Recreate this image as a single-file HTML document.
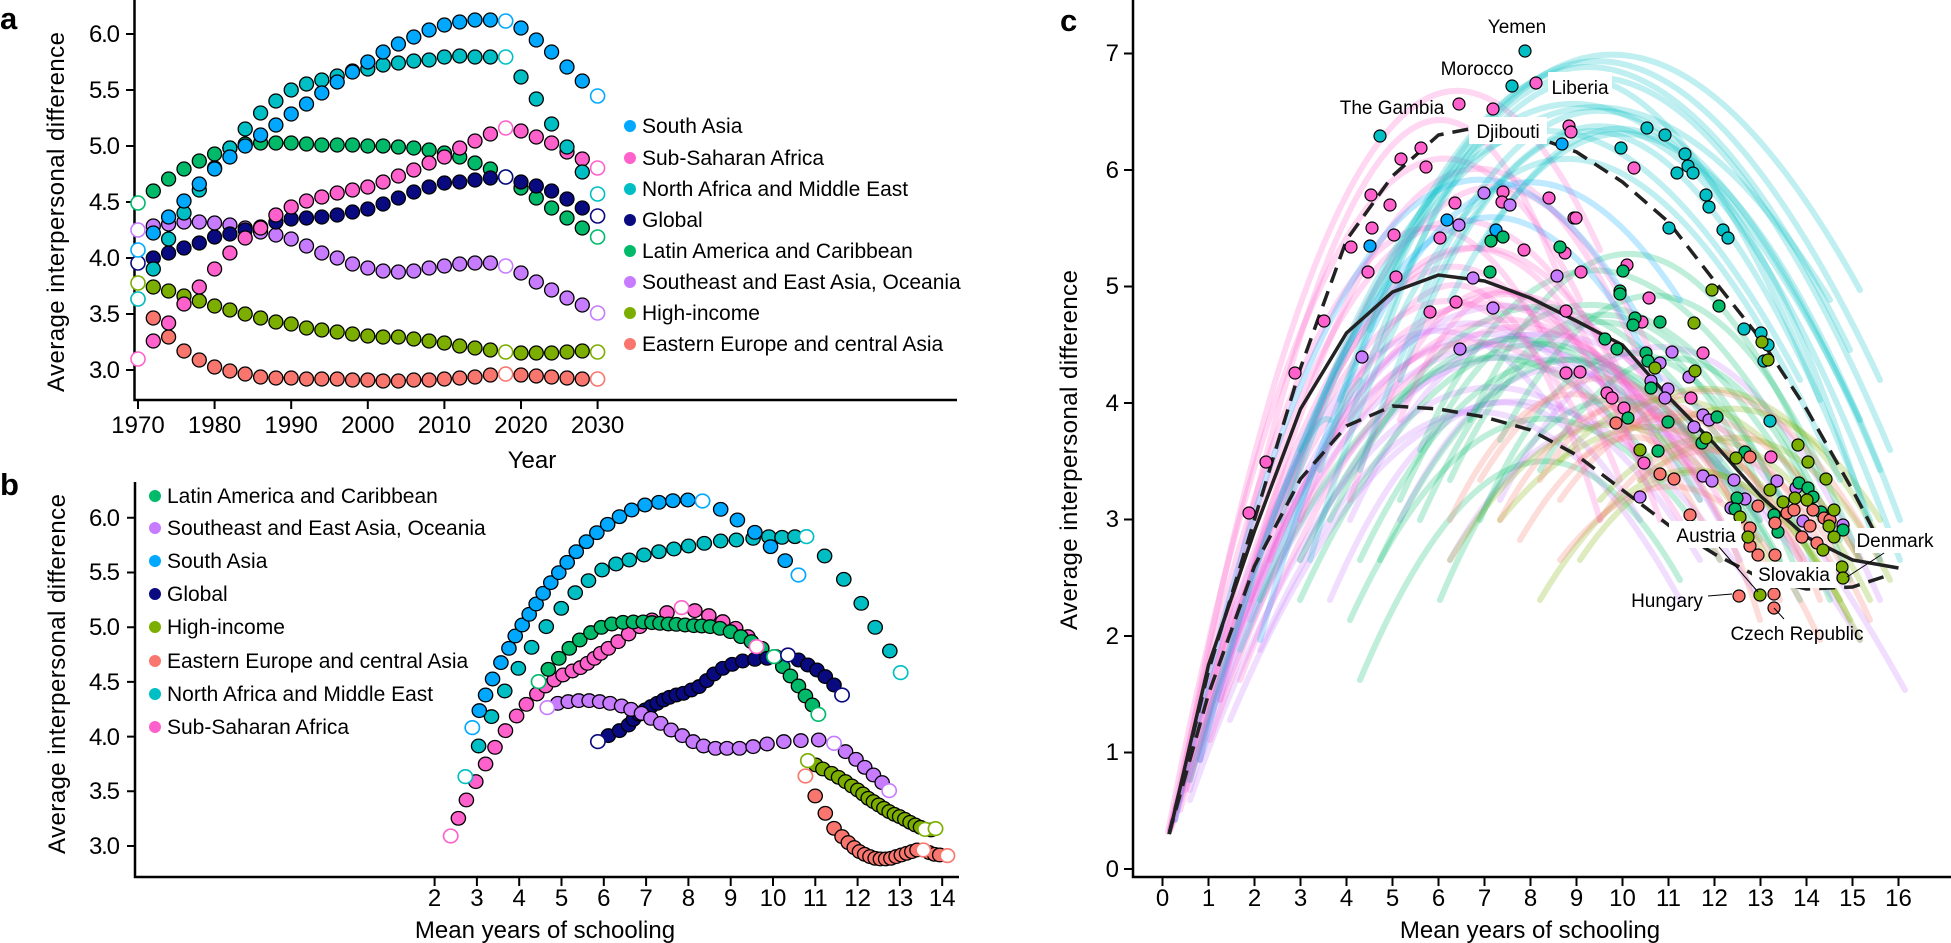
<!DOCTYPE html>
<html><head><meta charset="utf-8"><style>
html,body{margin:0;padding:0;background:#fff}
svg{display:block;font-family:"Liberation Sans",Arial,sans-serif}
</style></head><body>
<svg width="1951" height="943" viewBox="0 0 1951 943" xmlns="http://www.w3.org/2000/svg">
<defs>
<marker id="aSA" markerUnits="userSpaceOnUse" viewBox="0 0 20 20" refX="10" refY="10" markerWidth="20" markerHeight="20"><circle cx="10" cy="10" r="7" fill="#00A9FF" stroke="#000" stroke-width="1.3"/></marker>
<marker id="aSS" markerUnits="userSpaceOnUse" viewBox="0 0 20 20" refX="10" refY="10" markerWidth="20" markerHeight="20"><circle cx="10" cy="10" r="7" fill="#FF61CC" stroke="#000" stroke-width="1.3"/></marker>
<marker id="aNM" markerUnits="userSpaceOnUse" viewBox="0 0 20 20" refX="10" refY="10" markerWidth="20" markerHeight="20"><circle cx="10" cy="10" r="7" fill="#00BFC4" stroke="#000" stroke-width="1.3"/></marker>
<marker id="aGL" markerUnits="userSpaceOnUse" viewBox="0 0 20 20" refX="10" refY="10" markerWidth="20" markerHeight="20"><circle cx="10" cy="10" r="7" fill="#0A0A80" stroke="#000" stroke-width="1.3"/></marker>
<marker id="aLA" markerUnits="userSpaceOnUse" viewBox="0 0 20 20" refX="10" refY="10" markerWidth="20" markerHeight="20"><circle cx="10" cy="10" r="7" fill="#00BA6A" stroke="#000" stroke-width="1.3"/></marker>
<marker id="aPU" markerUnits="userSpaceOnUse" viewBox="0 0 20 20" refX="10" refY="10" markerWidth="20" markerHeight="20"><circle cx="10" cy="10" r="7" fill="#C77CFF" stroke="#000" stroke-width="1.3"/></marker>
<marker id="aHI" markerUnits="userSpaceOnUse" viewBox="0 0 20 20" refX="10" refY="10" markerWidth="20" markerHeight="20"><circle cx="10" cy="10" r="7" fill="#7CAE00" stroke="#000" stroke-width="1.3"/></marker>
<marker id="aEE" markerUnits="userSpaceOnUse" viewBox="0 0 20 20" refX="10" refY="10" markerWidth="20" markerHeight="20"><circle cx="10" cy="10" r="7" fill="#F8766D" stroke="#000" stroke-width="1.3"/></marker>

<marker id="bSA" markerUnits="userSpaceOnUse" viewBox="0 0 60 60" refX="30" refY="30" markerWidth="60" markerHeight="60"><circle cx="30" cy="30" r="20.5" fill="#00A9FF" stroke="#000" stroke-width="3.8"/></marker>
<marker id="bSS" markerUnits="userSpaceOnUse" viewBox="0 0 60 60" refX="30" refY="30" markerWidth="60" markerHeight="60"><circle cx="30" cy="30" r="20.5" fill="#FF61CC" stroke="#000" stroke-width="3.8"/></marker>
<marker id="bNM" markerUnits="userSpaceOnUse" viewBox="0 0 60 60" refX="30" refY="30" markerWidth="60" markerHeight="60"><circle cx="30" cy="30" r="20.5" fill="#00BFC4" stroke="#000" stroke-width="3.8"/></marker>
<marker id="bGL" markerUnits="userSpaceOnUse" viewBox="0 0 60 60" refX="30" refY="30" markerWidth="60" markerHeight="60"><circle cx="30" cy="30" r="20.5" fill="#0A0A80" stroke="#000" stroke-width="3.8"/></marker>
<marker id="bLA" markerUnits="userSpaceOnUse" viewBox="0 0 60 60" refX="30" refY="30" markerWidth="60" markerHeight="60"><circle cx="30" cy="30" r="20.5" fill="#00BA6A" stroke="#000" stroke-width="3.8"/></marker>
<marker id="bPU" markerUnits="userSpaceOnUse" viewBox="0 0 60 60" refX="30" refY="30" markerWidth="60" markerHeight="60"><circle cx="30" cy="30" r="20.5" fill="#C77CFF" stroke="#000" stroke-width="3.8"/></marker>
<marker id="bHI" markerUnits="userSpaceOnUse" viewBox="0 0 60 60" refX="30" refY="30" markerWidth="60" markerHeight="60"><circle cx="30" cy="30" r="20.5" fill="#7CAE00" stroke="#000" stroke-width="3.8"/></marker>
<marker id="bEE" markerUnits="userSpaceOnUse" viewBox="0 0 60 60" refX="30" refY="30" markerWidth="60" markerHeight="60"><circle cx="30" cy="30" r="20.5" fill="#F8766D" stroke="#000" stroke-width="3.8"/></marker>

<marker id="cSA" markerUnits="userSpaceOnUse" viewBox="0 0 20 20" refX="10" refY="10" markerWidth="20" markerHeight="20"><circle cx="10" cy="10" r="6" fill="#00A9FF" stroke="#000" stroke-width="1.2"/></marker>
<marker id="cSS" markerUnits="userSpaceOnUse" viewBox="0 0 20 20" refX="10" refY="10" markerWidth="20" markerHeight="20"><circle cx="10" cy="10" r="6" fill="#FF61CC" stroke="#000" stroke-width="1.2"/></marker>
<marker id="cNM" markerUnits="userSpaceOnUse" viewBox="0 0 20 20" refX="10" refY="10" markerWidth="20" markerHeight="20"><circle cx="10" cy="10" r="6" fill="#00BFC4" stroke="#000" stroke-width="1.2"/></marker>
<marker id="cLA" markerUnits="userSpaceOnUse" viewBox="0 0 20 20" refX="10" refY="10" markerWidth="20" markerHeight="20"><circle cx="10" cy="10" r="6" fill="#00BA6A" stroke="#000" stroke-width="1.2"/></marker>
<marker id="cPU" markerUnits="userSpaceOnUse" viewBox="0 0 20 20" refX="10" refY="10" markerWidth="20" markerHeight="20"><circle cx="10" cy="10" r="6" fill="#C77CFF" stroke="#000" stroke-width="1.2"/></marker>
<marker id="cHI" markerUnits="userSpaceOnUse" viewBox="0 0 20 20" refX="10" refY="10" markerWidth="20" markerHeight="20"><circle cx="10" cy="10" r="6" fill="#7CAE00" stroke="#000" stroke-width="1.2"/></marker>
<marker id="cEE" markerUnits="userSpaceOnUse" viewBox="0 0 20 20" refX="10" refY="10" markerWidth="20" markerHeight="20"><circle cx="10" cy="10" r="6" fill="#F8766D" stroke="#000" stroke-width="1.2"/></marker>
</defs>
<rect width="1951" height="943" fill="#fff"/>

<!-- panel c background curves -->
<g fill="none" stroke-width="6" stroke-linecap="round" stroke-opacity="0.25">
<g stroke="#C77CFF">
<path d="M1175 820 Q1400 50 1700 500"/><path d="M1200 760 Q1420 100 1760 520"/><path d="M1250 620 Q1450 100 1800 560"/>
<path d="M1300 560 Q1550 50 1905 690"/><path d="M1330 600 Q1480 250 1640 520"/><path d="M1220 700 Q1420 60 1720 460"/>
<path d="M1400 520 Q1560 200 1740 560"/><path d="M1260 650 Q1460 200 1680 600"/><path d="M1190 790 Q1380 100 1620 430"/>
<path d="M1500 500 Q1680 150 1880 600"/><path d="M1170 830 Q1350 120 1560 420"/><path d="M1450 560 Q1620 250 1860 640"/>
<path d="M1190 800 Q1430 120 1700 560"/><path d="M1230 720 Q1470 150 1760 600"/><path d="M1350 520 Q1520 150 1720 520"/>
</g>
<g stroke="#00BA6A">
<path d="M1400 500 Q1580 100 1820 520"/><path d="M1450 480 Q1620 120 1800 580"/><path d="M1380 560 Q1560 180 1760 520"/>
<path d="M1420 450 Q1600 50 1840 540"/><path d="M1350 620 Q1520 250 1720 560"/><path d="M1480 520 Q1640 150 1830 600"/>
<path d="M1300 560 Q1500 150 1700 500"/><path d="M1500 440 Q1680 100 1860 560"/><path d="M1360 680 Q1520 300 1680 580"/>
<path d="M1440 600 Q1600 220 1780 560"/><path d="M1540 470 Q1700 200 1850 580"/><path d="M1260 600 Q1450 200 1650 460"/>
<path d="M1470 420 Q1640 60 1820 480"/><path d="M1330 520 Q1520 120 1740 470"/>
<path d="M1300 600 Q1520 120 1760 540"/><path d="M1360 560 Q1560 140 1800 600"/><path d="M1420 520 Q1600 120 1780 500"/>
</g>
<g stroke="#7CAE00">
<path d="M1560 460 Q1700 300 1860 560"/><path d="M1600 500 Q1740 340 1870 600"/><path d="M1620 420 Q1760 320 1880 540"/>
<path d="M1580 560 Q1720 350 1860 640"/><path d="M1640 480 Q1780 360 1890 580"/><path d="M1500 520 Q1680 300 1840 600"/>
<path d="M1660 430 Q1780 360 1880 520"/><path d="M1540 600 Q1700 330 1850 620"/><path d="M1450 560 Q1620 280 1780 580"/>
</g>
<g stroke="#F8766D">
<path d="M1540 480 Q1660 280 1800 560"/><path d="M1560 500 Q1700 300 1840 580"/><path d="M1500 520 Q1640 260 1780 600"/>
<path d="M1580 460 Q1720 330 1860 560"/><path d="M1600 520 Q1720 340 1820 600"/><path d="M1520 540 Q1660 300 1760 620"/>
<path d="M1620 440 Q1740 300 1880 560"/><path d="M1560 560 Q1700 380 1820 640"/><path d="M1480 480 Q1620 250 1750 540"/>
<path d="M1640 480 Q1760 380 1870 620"/><path d="M1450 520 Q1580 250 1720 560"/>
</g>
<g stroke="#FF61CC">
<path d="M1168 832 Q1360 -150 1580 300"/><path d="M1170 830 Q1400 -50 1620 400"/><path d="M1180 800 Q1390 -120 1640 420"/>
<path d="M1200 760 Q1380 -200 1560 280"/><path d="M1190 780 Q1420 -80 1660 450"/><path d="M1220 700 Q1420 -150 1640 360"/>
<path d="M1250 600 Q1430 0 1620 480"/><path d="M1300 520 Q1460 50 1600 520"/><path d="M1170 830 Q1350 -20 1540 330"/>
<path d="M1270 560 Q1450 -60 1650 350"/><path d="M1230 640 Q1400 100 1580 420"/><path d="M1350 500 Q1480 100 1640 460"/>
<path d="M1175 820 Q1370 -250 1600 250"/><path d="M1400 420 Q1520 120 1660 520"/><path d="M1172 826 Q1390 0 1700 480"/>
<path d="M1185 790 Q1400 60 1680 520"/>
<path d="M1180 810 Q1420 20 1690 440"/><path d="M1210 740 Q1440 60 1700 480"/><path d="M1240 680 Q1470 80 1720 500"/>
</g>
<g stroke="#00A9FF">
<path d="M1175 820 Q1380 -120 1640 320"/><path d="M1200 760 Q1420 -80 1660 380"/><path d="M1260 640 Q1450 -50 1680 300"/>
</g>
<g stroke="#00BFC4">
<path d="M1290 500 Q1540 -250 1860 420"/><path d="M1320 470 Q1560 -300 1880 380"/><path d="M1350 420 Q1580 -280 1890 450"/>
<path d="M1310 560 Q1530 -200 1840 480"/><path d="M1380 350 Q1570 -220 1820 400"/><path d="M1400 380 Q1600 -180 1870 520"/>
<path d="M1280 520 Q1500 -180 1800 380"/><path d="M1360 470 Q1600 -260 1900 560"/><path d="M1340 400 Q1560 -240 1850 350"/>
<path d="M1420 300 Q1620 -150 1880 470"/><path d="M1300 450 Q1550 -150 1830 300"/><path d="M1370 330 Q1590 -200 1860 290"/>
<path d="M1190 780 Q1300 400 1330 420"/><path d="M1240 650 Q1330 420 1360 380"/>
<path d="M1450 300 Q1660 -120 1900 520"/><path d="M1480 250 Q1680 -100 1880 560"/>
</g>
</g>
<!-- panel c main curves -->
<g fill="none" stroke="#222" stroke-width="3.5">
<path d="M1169.4 834 L1208.5 665 1254.5 531 1300.5 409 1346.5 333 1392.5 292 1438.5 275 1484.5 281 1530.5 298 1576.5 321 1622.5 345 1668.5 397 1714.5 444 1760.5 496 1806.5 537 1852.5 560 1898.5 568"/>
<path stroke-dasharray="16 9" d="M1169 834 L1208.5 671 1254.5 519.5 1300.5 368 1346.5 240 1392.5 176 1438.5 135 1484.5 126 1530.5 135 1576.5 152 1622.5 182 1668.5 222 1714.5 281 1760.5 339 1806.5 409 1852.5 490 1889.3 560"/>
<path stroke-dasharray="16 9" d="M1169 834 L1208.5 694 1254.5 566 1300.5 479 1346.5 426 1392.5 406 1438.5 409 1484.5 417 1530.5 430 1576.5 455 1622.5 490 1668.5 525 1714.5 554 1760.5 578 1806.5 589 1852.5 587 1889.3 575"/>
</g>

<!-- panel labels -->
<text x="0" y="29" font-size="31" font-weight="bold">a</text>
<text x="0" y="495" font-size="31" font-weight="bold">b</text>
<text x="1060" y="31" font-size="31" font-weight="bold">c</text>
<!-- axes -->
<g stroke="#000" stroke-width="2.5" fill="none">
<path d="M134.5 0 V400 H957"/>
<path d="M135 482 V877 H959"/>
<path d="M1133 0 V877 H1951"/>
</g>
<g font-size="24" text-anchor="end">
<text x="120" y="378" textLength="31">3.0</text><text x="120" y="322" textLength="31">3.5</text>
<text x="120" y="266" textLength="31">4.0</text><text x="120" y="210" textLength="31">4.5</text>
<text x="120" y="154" textLength="31">5.0</text><text x="120" y="98" textLength="31">5.5</text>
<text x="120" y="42" textLength="31">6.0</text>
<text x="120" y="854" textLength="31">3.0</text><text x="120" y="799" textLength="31">3.5</text>
<text x="120" y="745" textLength="31">4.0</text><text x="120" y="690" textLength="31">4.5</text>
<text x="120" y="635" textLength="31">5.0</text><text x="120" y="580" textLength="31">5.5</text>
<text x="120" y="526" textLength="31">6.0</text>
<text x="1119" y="877">0</text><text x="1119" y="760">1</text><text x="1119" y="644">2</text><text x="1119" y="527">3</text>
<text x="1119" y="411">4</text><text x="1119" y="294">5</text><text x="1119" y="178">6</text><text x="1119" y="61">7</text>
</g>
<g stroke="#000" stroke-width="2">
<path d="M126 370H134M126 314H134M126 258H134M126 202H134M126 146H134M126 90H134M126 34H134"/>
<path d="M127 846H135M127 791.3H135M127 736.6H135M127 681.9H135M127 627.2H135M127 572.5H135M127 517.8H135"/>
<path d="M138 400V409M214.6 400V409M291.2 400V409M367.8 400V409M444.4 400V409M521 400V409M597.6 400V409"/>
<path d="M434.6 877V886M476.9 877V886M519.2 877V886M561.5 877V886M603.8 877V886M646.1 877V886M688.4 877V886M730.7 877V886M773 877V886M815.3 877V886M857.6 877V886M899.9 877V886M942.2 877V886"/>
<path d="M1124 869H1133M1124 752.5H1133M1124 636H1133M1124 519.5H1133M1124 403H1133M1124 286.5H1133M1124 170H1133M1124 53.5H1133"/>
<path d="M1162.5 877V886M1208.5 877V886M1254.5 877V886M1300.5 877V886M1346.5 877V886M1392.5 877V886M1438.5 877V886M1484.5 877V886M1530.5 877V886M1576.5 877V886M1622.5 877V886M1668.5 877V886M1714.5 877V886M1760.5 877V886M1806.5 877V886M1852.5 877V886M1898.5 877V886"/>
</g>
<g font-size="24" text-anchor="middle">
<text x="138" y="433">1970</text><text x="214.6" y="433">1980</text><text x="291.2" y="433">1990</text>
<text x="367.8" y="433">2000</text><text x="444.4" y="433">2010</text><text x="521" y="433">2020</text><text x="597.6" y="433">2030</text>
<text x="532" y="468">Year</text>
<text x="434.6" y="906">2</text><text x="476.9" y="906">3</text><text x="519.2" y="906">4</text><text x="561.5" y="906">5</text>
<text x="603.8" y="906">6</text><text x="646.1" y="906">7</text><text x="688.4" y="906">8</text><text x="730.7" y="906">9</text>
<text x="773" y="906">10</text><text x="815.3" y="906">11</text><text x="857.6" y="906">12</text><text x="899.9" y="906">13</text><text x="942.2" y="906">14</text>
<text x="1162.5" y="906">0</text><text x="1208.5" y="906">1</text><text x="1254.5" y="906">2</text><text x="1300.5" y="906">3</text>
<text x="1346.5" y="906">4</text><text x="1392.5" y="906">5</text><text x="1438.5" y="906">6</text><text x="1484.5" y="906">7</text>
<text x="1530.5" y="906">8</text><text x="1576.5" y="906">9</text><text x="1622.5" y="906">10</text><text x="1668.5" y="906">11</text>
<text x="1714.5" y="906">12</text><text x="1760.5" y="906">13</text><text x="1806.5" y="906">14</text><text x="1852.5" y="906">15</text><text x="1898.5" y="906">16</text>
<text x="545" y="938">Mean years of schooling</text>
<text x="1530" y="938">Mean years of schooling</text>
</g>
<text transform="translate(64,212) rotate(-90)" font-size="24" text-anchor="middle" textLength="360">Average interpersonal difference</text>
<text transform="translate(65,674) rotate(-90)" font-size="24" text-anchor="middle" textLength="360">Average interpersonal difference</text>
<text transform="translate(1077,450) rotate(-90)" font-size="24" text-anchor="middle" textLength="360">Average interpersonal difference</text>

<!-- panel a data -->
<g fill="none" stroke="none">
<path marker-start="url(#aEE)" marker-mid="url(#aEE)" marker-end="url(#aEE)" d="M153.3 318 168.6 337 184 351 199.3 360 214.6 367 229.9 371 245.2 374 260.6 377 275.9 378 291.2 378 306.5 379 321.8 379 337.2 379 352.5 380 367.8 380 383.1 381 398.4 381 413.8 380 429.1 380 444.4 379 459.7 378 475 377 490.4 375 M521 375 536.3 376 551.6 377 567 378 582.3 379"/>
<path marker-start="url(#aHI)" marker-mid="url(#aHI)" marker-end="url(#aHI)" d="M153.3 287 168.6 291 184 296 199.3 301 214.6 306 229.9 310 245.2 314 260.6 318 275.9 322 291.2 324 306.5 328 321.8 330 337.2 332 352.5 334 367.8 336 383.1 337 398.4 337 413.8 339 429.1 341 444.4 343 459.7 346 475 348 490.4 350 M521 353 536.3 353 551.6 353 567 352 582.3 351"/>
<path marker-start="url(#aPU)" marker-mid="url(#aPU)" marker-end="url(#aPU)" d="M153.3 226 168.6 224 184 222 199.3 222 214.6 223 229.9 225 245.2 228 260.6 232 275.9 235 291.2 239 306.5 246 321.8 253 337.2 258 352.5 264 367.8 268 383.1 271 398.4 272 413.8 271 429.1 268 444.4 266 459.7 264 475 263 490.4 263 M521 273 536.3 282 551.6 290 567 298 582.3 305"/>
<path marker-start="url(#aLA)" marker-mid="url(#aLA)" marker-end="url(#aLA)" d="M153.3 191 168.6 179 184 169 199.3 161 214.6 154 229.9 148 245.2 144 260.6 143 275.9 143 291.2 143 306.5 144 321.8 145 337.2 145 352.5 145 367.8 146 383.1 146 398.4 147 413.8 148 429.1 150 444.4 153 459.7 157 475 163 490.4 169 M521 188 536.3 198 551.6 208 567 218 582.3 228"/>
<path marker-start="url(#aGL)" marker-mid="url(#aGL)" marker-end="url(#aGL)" d="M153.3 258 168.6 253 184 248 199.3 243 214.6 237 229.9 234 245.2 230 260.6 227 275.9 222 291.2 219 306.5 218 321.8 217 337.2 215 352.5 212 367.8 209 383.1 204 398.4 198 413.8 192 429.1 187 444.4 183 459.7 182 475 180 490.4 178 M521 182 536.3 186 551.6 191 567 199 582.3 208"/>
<path marker-start="url(#aSS)" marker-mid="url(#aSS)" marker-end="url(#aSS)" d="M153.3 341 168.6 323 184 304 199.3 287 214.6 269 229.9 253 245.2 238 260.6 228 275.9 215 291.2 207 306.5 201 321.8 197 337.2 193 352.5 190 367.8 187 383.1 182 398.4 176 413.8 170 429.1 163 444.4 157 459.7 148 475 141 490.4 134 M521 131 536.3 137 551.6 143 567 152 582.3 159"/>
<path marker-start="url(#aNM)" marker-mid="url(#aNM)" marker-end="url(#aNM)" d="M153.3 269 168.6 239 184 213 199.3 190 214.6 168 229.9 148 245.2 129 260.6 113 275.9 101 291.2 90 306.5 84 321.8 80 337.2 76 352.5 71 367.8 69 383.1 65 398.4 63 413.8 61 429.1 60 444.4 57 459.7 56 475 57 490.4 57 M521 77 536.3 99 551.6 124 567 147 582.3 172"/>
<path marker-start="url(#aSA)" marker-mid="url(#aSA)" marker-end="url(#aSA)" d="M153.3 233 168.6 217 184 201 199.3 184 214.6 169 229.9 157 245.2 146 260.6 135 275.9 125 291.2 114 306.5 104 321.8 93 337.2 82 352.5 72 367.8 62 383.1 52 398.4 44 413.8 37 429.1 30 444.4 25 459.7 22 475 20 490.4 20 M521 28 536.3 40 551.6 52 567 67 582.3 81"/>
</g>
<g fill="#fff" stroke-width="1.6">
<circle cx="138" cy="299" r="7" stroke="#F8766D"/><circle cx="505.7" cy="374" r="7" stroke="#F8766D"/><circle cx="597.6" cy="379" r="7" stroke="#F8766D"/>
<circle cx="138" cy="283" r="7" stroke="#7CAE00"/><circle cx="505.7" cy="352" r="7" stroke="#7CAE00"/><circle cx="597.6" cy="352" r="7" stroke="#7CAE00"/>
<circle cx="138" cy="230" r="7" stroke="#C77CFF"/><circle cx="505.7" cy="266" r="7" stroke="#C77CFF"/><circle cx="597.6" cy="313" r="7" stroke="#C77CFF"/>
<circle cx="138" cy="203" r="7" stroke="#00BA6A"/><circle cx="505.7" cy="177" r="7" stroke="#00BA6A"/><circle cx="597.6" cy="237" r="7" stroke="#00BA6A"/>
<circle cx="138" cy="263" r="7" stroke="#0A0A80"/><circle cx="505.7" cy="177" r="7" stroke="#0A0A80"/><circle cx="597.6" cy="216" r="7" stroke="#0A0A80"/>
<circle cx="138" cy="359" r="7" stroke="#FF61CC"/><circle cx="505.7" cy="128" r="7" stroke="#FF61CC"/><circle cx="597.6" cy="168" r="7" stroke="#FF61CC"/>
<circle cx="138" cy="299" r="7" stroke="#00BFC4"/><circle cx="505.7" cy="57" r="7" stroke="#00BFC4"/><circle cx="597.6" cy="194" r="7" stroke="#00BFC4"/>
<circle cx="138" cy="250" r="7" stroke="#00A9FF"/><circle cx="505.7" cy="21" r="7" stroke="#00A9FF"/><circle cx="597.6" cy="96" r="7" stroke="#00A9FF"/>
</g>

<!-- panel b data (zoom coords) -->
<g transform="translate(420,470) scale(0.3488,0.3333)">
<g fill="none" stroke="none">
<path marker-start="url(#bSS)" marker-mid="url(#bSS)" marker-end="url(#bSS)" d="M110 1045 133 990 160 935 188 882 215 832 245 782 277 738 305 703 335 672 360 648 385 630 410 615 437 603 460 593 480 580 500 565 518 550 540 535 568 515 598 492 630 470 665 450 708 428 M788 422 828 437 868 455 905 475 940 500"/>
<path marker-start="url(#bNM)" marker-mid="url(#bNM)" marker-end="url(#bNM)" d="M168 828 205 740 243 663 282 595 320 532 362 470 405 415 445 368 483 332 522 300 562 282 600 270 642 255 685 245 728 237 770 228 815 220 862 213 907 210 955 205 1000 200 1038 202 1075 200 M1160 258 1215 328 1265 400 1305 472 1347 543"/>
<path marker-start="url(#bSA)" marker-mid="url(#bSA)" marker-end="url(#bSA)" d="M170 722 188 675 208 627 232 578 255 535 273 498 293 465 313 433 333 402 353 370 375 338 398 308 422 277 448 245 477 215 507 188 538 163 572 140 607 120 645 105 685 97 725 92 768 90 M862 118 910 150 960 187 1005 230 1047 272"/>
<path marker-start="url(#bLA)" marker-mid="url(#bLA)" marker-end="url(#bLA)" d="M368 598 398 565 428 535 458 510 490 488 520 472 550 462 582 457 612 456 640 456 665 458 688 460 712 462 735 463 760 465 785 467 808 468 832 470 860 475 890 485 920 500 950 515 980 535 M1040 590 1062 618 1085 648 1105 678 1125 705"/>
<path marker-start="url(#bGL)" marker-mid="url(#bGL)" marker-end="url(#bGL)" d="M540 797 572 782 598 765 612 748 628 733 645 720 662 710 680 700 698 690 715 682 735 675 755 670 778 660 800 650 822 632 843 612 868 595 895 583 925 573 960 568 995 565 1020 560 M1085 570 1112 585 1138 600 1162 620 1187 645"/>
<path marker-start="url(#bPU)" marker-mid="url(#bPU)" marker-end="url(#bPU)" d="M395 700 425 695 455 692 485 692 515 695 545 700 578 708 605 718 635 730 662 745 690 760 720 780 752 797 783 815 813 828 847 835 880 835 916 835 955 830 995 822 1043 815 1092 812 1143 810 M1220 845 1250 868 1275 892 1300 915 1325 938"/>
<path marker-start="url(#bHI)" marker-mid="url(#bHI)" marker-end="url(#bHI)" d="M1135 885 1155 897 1180 910 1200 922 1220 935 1238 948 1255 960 1270 972 1285 985 1300 995 1315 1005 1330 1015 1345 1025 1360 1033 1375 1040 1390 1048 1405 1057 1420 1065 1435 1072 1465 1080"/>
<path marker-start="url(#bEE)" marker-mid="url(#bEE)" marker-end="url(#bEE)" d="M1133 978 1162 1030 1187 1075 1210 1100 1228 1118 1245 1133 1260 1145 1275 1153 1290 1160 1305 1165 1320 1167 1335 1167 1350 1165 1365 1160 1380 1155 1395 1150 1410 1145 1425 1140 1460 1148 1475 1153 1490 1155"/>
</g>
<g fill="#fff" stroke-width="4.8">
<circle cx="88" cy="1098" r="20.5" stroke="#FF61CC"/><circle cx="750" cy="413" r="20.5" stroke="#FF61CC"/><circle cx="965" cy="530" r="20.5" stroke="#FF61CC"/>
<circle cx="130" cy="920" r="20.5" stroke="#00BFC4"/><circle cx="1108" cy="200" r="20.5" stroke="#00BFC4"/><circle cx="1378" cy="608" r="20.5" stroke="#00BFC4"/>
<circle cx="150" cy="773" r="20.5" stroke="#00A9FF"/><circle cx="810" cy="93" r="20.5" stroke="#00A9FF"/><circle cx="1085" cy="315" r="20.5" stroke="#00A9FF"/>
<circle cx="340" cy="635" r="20.5" stroke="#00BA6A"/><circle cx="1015" cy="560" r="20.5" stroke="#00BA6A"/><circle cx="1142" cy="733" r="20.5" stroke="#00BA6A"/>
<circle cx="510" cy="815" r="20.5" stroke="#0A0A80"/><circle cx="1055" cy="555" r="20.5" stroke="#0A0A80"/><circle cx="1210" cy="675" r="20.5" stroke="#0A0A80"/>
<circle cx="365" cy="713" r="20.5" stroke="#C77CFF"/><circle cx="1187" cy="820" r="20.5" stroke="#C77CFF"/><circle cx="1345" cy="962" r="20.5" stroke="#C77CFF"/>
<circle cx="1112" cy="872" r="20.5" stroke="#7CAE00"/><circle cx="1448" cy="1078" r="20.5" stroke="#7CAE00"/><circle cx="1478" cy="1076" r="20.5" stroke="#7CAE00"/>
<circle cx="1105" cy="918" r="20.5" stroke="#F8766D"/><circle cx="1443" cy="1140" r="20.5" stroke="#F8766D"/><circle cx="1512" cy="1157" r="20.5" stroke="#F8766D"/>
</g>
</g>

<!-- legends -->
<g font-size="21">
<circle cx="630" cy="126" r="6" fill="#00A9FF"/><text x="642" y="133">South Asia</text>
<circle cx="630" cy="158" r="6" fill="#FF61CC"/><text x="642" y="165">Sub-Saharan Africa</text>
<circle cx="630" cy="189" r="6" fill="#00BFC4"/><text x="642" y="196">North Africa and Middle East</text>
<circle cx="630" cy="220" r="6" fill="#0A0A80"/><text x="642" y="227">Global</text>
<circle cx="630" cy="251" r="6" fill="#00BA6A"/><text x="642" y="258">Latin America and Caribbean</text>
<circle cx="630" cy="282" r="6" fill="#C77CFF"/><text x="642" y="289">Southeast and East Asia, Oceania</text>
<circle cx="630" cy="313" r="6" fill="#7CAE00"/><text x="642" y="320">High-income</text>
<circle cx="630" cy="344" r="6" fill="#F8766D"/><text x="642" y="351">Eastern Europe and central Asia</text>
<circle cx="155" cy="496" r="6" fill="#00BA6A"/><text x="167" y="503">Latin America and Caribbean</text>
<circle cx="155" cy="528" r="6" fill="#C77CFF"/><text x="167" y="535">Southeast and East Asia, Oceania</text>
<circle cx="155" cy="561" r="6" fill="#00A9FF"/><text x="167" y="568">South Asia</text>
<circle cx="155" cy="594" r="6" fill="#0A0A80"/><text x="167" y="601">Global</text>
<circle cx="155" cy="627" r="6" fill="#7CAE00"/><text x="167" y="634">High-income</text>
<circle cx="155" cy="661" r="6" fill="#F8766D"/><text x="167" y="668">Eastern Europe and central Asia</text>
<circle cx="155" cy="694" r="6" fill="#00BFC4"/><text x="167" y="701">North Africa and Middle East</text>
<circle cx="155" cy="727" r="6" fill="#FF61CC"/><text x="167" y="734">Sub-Saharan Africa</text>
</g>

<!-- panel c annotation boxes -->
<g font-size="19">
<rect x="1480" y="8" width="74" height="26" fill="#fff"/><text x="1517" y="33" text-anchor="middle">Yemen</text>
<rect x="1436" y="50" width="82" height="26" fill="#fff"/><text x="1477" y="75" text-anchor="middle">Morocco</text>
<rect x="1548" y="72" width="64" height="26" fill="#fff"/><text x="1580" y="94" text-anchor="middle">Liberia</text>
<text x="1392" y="114" text-anchor="middle">The Gambia</text>
<rect x="1469" y="117" width="78" height="27" fill="#fff"/><text x="1508" y="138" text-anchor="middle">Djibouti</text>
</g>

<!-- panel c dots -->
<g fill="none" stroke="none">
<path marker-start="url(#cSS)" marker-mid="url(#cSS)" marker-end="url(#cSS)" d="M1459 104 1493 109 1536 83 1569 126 1571 132 1421 148 1401 159 1426 167 1371 195 1390 205 1455 203 1503 192 1502 202 1549 198 1574 218 1576 218 1372 228 1394 235 1440 238 1351 247 1368 272 1396 277 1524 250 1565 253 1581 272 1634 168 1627 265 1649 298 1642 322 1430 312 1456 302 1566 311 1324 321 1295 373 1566 373 1580 372 1607 393 1612 398 1624 408 1703 353 1691 398 1771 457 1644 463 1266 462 1249 513"/>
<path marker-start="url(#cNM)" marker-mid="url(#cNM)" marker-end="url(#cNM)" d="M1525 51 1512 86 1380 136 1647 128 1665 135 1621 148 1685 154 1688 166 1677 173 1693 173 1706 195 1709 207 1669 228 1723 230 1728 238 1744 329 1761 333 1768 345 1764 361 1770 421"/>
<path marker-start="url(#cSA)" marker-mid="url(#cSA)" marker-end="url(#cSA)" d="M1562 144 1447 220 1496 230 1370 246"/>
<path marker-start="url(#cPU)" marker-mid="url(#cPU)" marker-end="url(#cPU)" d="M1484 193 1510 205 1459 225 1473 278 1557 276 1493 308 1460 349 1362 357 1672 352 1660 363 1651 381 1668 389 1665 398 1689 377 1703 415 1694 427 1709 420 1640 497 1703 476 1712 481 1734 480 1745 499 1731 508 1777 481 1796 488 1803 521 1843 525"/>
<path marker-start="url(#cLA)" marker-mid="url(#cLA)" marker-end="url(#cLA)" d="M1491 241 1503 237 1490 272 1560 247 1623 271 1620 291 1620 294 1719 306 1635 318 1660 322 1633 325 1605 339 1617 349 1646 353 1648 361 1651 388 1628 418 1668 422 1717 417 1702 443 1658 451 1745 452 1737 498 1735 509 1774 515 1778 532 1799 483 1808 488 1813 497 1821 512 1843 530"/>
<path marker-start="url(#cEE)" marker-mid="url(#cEE)" marker-end="url(#cEE)" d="M1616 423 1750 457 1660 474 1674 479 1690 515 1758 506 1750 528 1750 546 1758 555 1775 555 1775 523 1787 513 1802 537 1813 510 1817 543 1824 518 1810 526 1830 520 1739 596 1774 594 1774 608 1794 510"/>
<path marker-start="url(#cHI)" marker-mid="url(#cHI)" marker-end="url(#cHI)" d="M1712 290 1694 323 1695 371 1655 368 1762 342 1768 360 1706 438 1640 450 1798 445 1808 462 1736 458 1826 479 1783 502 1795 498 1807 500 1834 510 1834 537 1748 537 1823 550 1842 567 1843 578 1760 595 1770 490 1740 517 1829 526"/>
</g>

<!-- lower annotations -->
<g font-size="19">
<rect x="1669" y="521" width="72" height="27" fill="#fff"/><text x="1706" y="542" text-anchor="middle">Austria</text>
<rect x="1855" y="528" width="82" height="25" fill="#fff"/><text x="1895" y="547" text-anchor="middle">Denmark</text>
<rect x="1752" y="562" width="84" height="26" fill="#fff"/><text x="1794" y="581" text-anchor="middle">Slovakia</text>
<text x="1667" y="607" text-anchor="middle">Hungary</text>
<text x="1797" y="640" text-anchor="middle">Czech Republic</text>
<path stroke="#000" stroke-width="1" fill="none" d="M1719 547L1758 592M1884 553L1847 577M1708 596L1732 594M1774 608L1784 619"/>
</g>
</svg>
</body></html>
